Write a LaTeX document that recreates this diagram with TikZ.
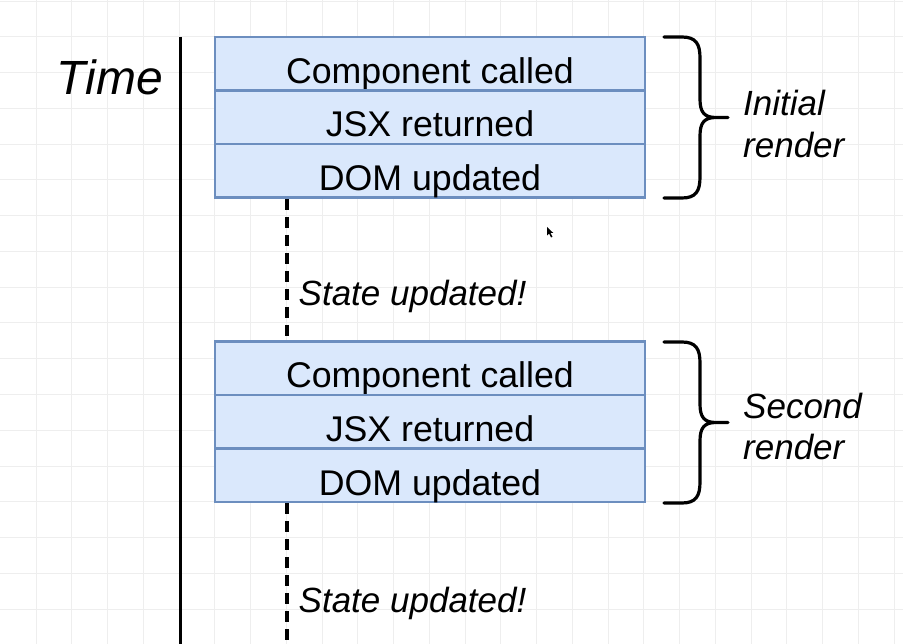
\documentclass[tikz,border=0pt]{standalone}
\usepackage{fontspec}
\setmainfont{Liberation Sans}
\definecolor{boxfill}{HTML}{DAE8FC}
\definecolor{boxline}{HTML}{6C8EBF}
\definecolor{gridc}{HTML}{EEEEEE}
\tikzset{
  rowbox/.style={draw=boxline, fill=boxfill, line width=2.6pt, inner sep=0pt,
    minimum width=430pt, text height=46.5pt, text depth=7pt,
    font=\fontsize{35.7}{42}\selectfont},
  itlabel/.style={inner sep=0pt, font=\fontsize{35}{42}\selectfont\itshape},
  dashline/.style={line width=3.2pt, dash pattern=on 11pt off 7pt},
  timeline/.style={line width=3pt},
  bracestyle/.style={line width=3.2pt, line cap=round, line join=round}
}
\begin{document}
\begin{tikzpicture}[x=1pt, y=-1pt]
\useasboundingbox (0,0) rectangle (903,644);
\fill[white] (0,0) rectangle (903,644);
% grid
\foreach \i in {0,...,24} {
  \draw[gridc, line width=1pt] ({36+35.75*\i},0) -- ({36+35.75*\i},644);
}
\foreach \j in {0,...,17} {
  \draw[gridc, line width=1pt] (0,{1.25+35.75*\j}) -- (903,{1.25+35.75*\j});
}
% time axis
\node[inner sep=0pt, anchor=base east, font=\fontsize{48}{56}\selectfont\itshape] (time) at (163,95) {Time};
\coordinate (ttop) at (180,37);
\coordinate (tbot) at (180,644);
\draw[timeline] (ttop) -- (tbot);
% first render block
\node[rowbox] (c1) at (430,63.75) {Component called};
\node[rowbox] (j1) at (430,117.25) {JSX returned};
\node[rowbox] (d1) at (430,170.75) {DOM updated};
% second render block
\node[rowbox] (c2) at (430,368.25) {Component called};
\node[rowbox] (j2) at (430,421.75) {JSX returned};
\node[rowbox] (d2) at (430,475.25) {DOM updated};
% dashed connectors
\coordinate (dx) at (287,0);
\coordinate (dend) at (287,644);
\draw[dashline] (d1.south -| dx) -- (c2.north -| dx);
\draw[dashline] (d2.south -| dx) -- (dend);
\node[itlabel, anchor=base west] (s1) at (298.5,306) {State updated!};
\node[itlabel, anchor=base west] (s2) at (298.5,612) {State updated!};
% braces
\draw[bracestyle] (664,37) -- (682,37) .. controls (696,37) and (700,44) .. (700,58)
  -- (700,99) .. controls (700,112) and (704,117.5) .. (716,117.5) -- (728,117.5)
  (716,117.5) .. controls (704,117.5) and (700,123) .. (700,136)
  -- (700,177) .. controls (700,191) and (696,198) .. (682,198) -- (664,198);
\begin{scope}[yshift=-305pt]
\draw[bracestyle] (664,37) -- (682,37) .. controls (696,37) and (700,44) .. (700,58)
  -- (700,99) .. controls (700,112) and (704,117.5) .. (716,117.5) -- (728,117.5)
  (716,117.5) .. controls (704,117.5) and (700,123) .. (700,136)
  -- (700,177) .. controls (700,191) and (696,198) .. (682,198) -- (664,198);
\end{scope}
\node[itlabel, anchor=base west] (l1a) at (743,116) {Initial};
\node[itlabel, anchor=base west] (l1b) at (743,158) {render};
\node[itlabel, anchor=base west] (l2a) at (743,419) {Second};
\node[itlabel, anchor=base west] (l2b) at (743,460) {render};
% mouse cursor
\fill[black] (547,227) -- (547,235.5) -- (549,233.5) -- (551,237.5) -- (552.5,236.8)
  -- (550.6,233) -- (553.3,233) -- cycle;
\end{tikzpicture}
\end{document}
